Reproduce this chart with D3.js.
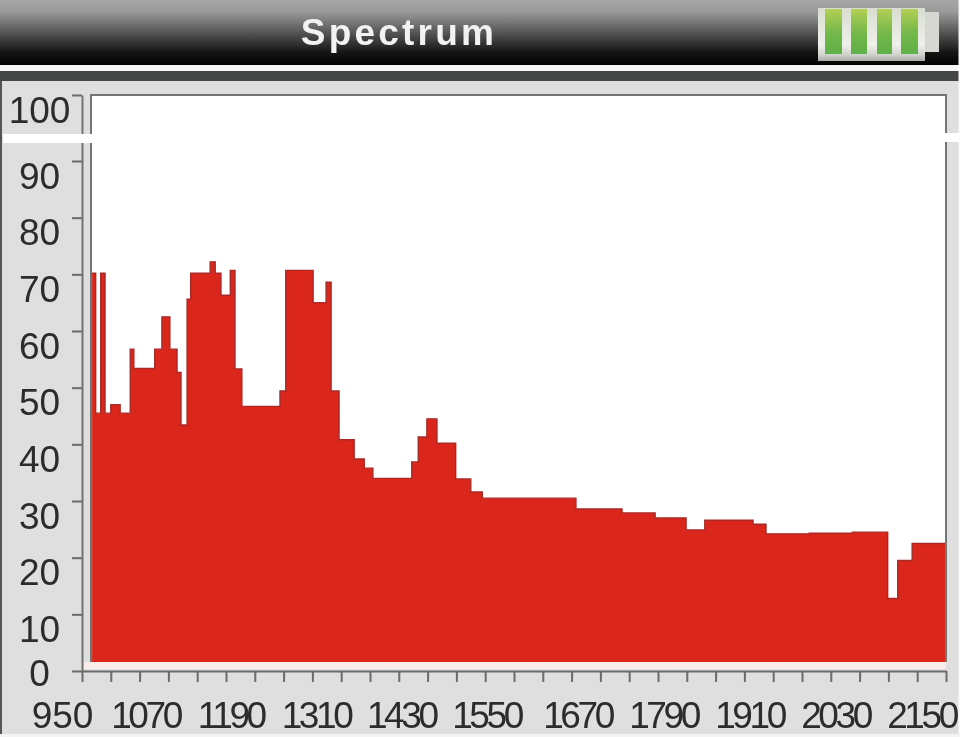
<!DOCTYPE html>
<html>
<head>
<meta charset="utf-8">
<script src="https://cdn.jsdelivr.net/npm/d3@7/dist/d3.min.js"></script>
<style>
html,body{margin:0;padding:0;background:#dedfde;overflow:hidden}
svg{display:block;filter:blur(0.7px)}
text{font-family:"Liberation Sans",Arial,sans-serif}
</style>
</head>
<body>
<script>
const titleText = "Spectrum";
const xTickValues = [950,990,1030,1070,1110,1150,1190,1230,1270,1310,1350,1390,1430,1470,1510,1550,1590,1630,1670,1710,1750,1790,1830,1870,1910,1950,1990,2030,2070,2110,2150];
const xLabelValues = [950,1070,1190,1310,1430,1550,1670,1790,1910,2030,2150];
const yTickValues = [0,10,20,30,40,50,60,70,80,90,100];
// Left edge of each step (MHz), closed by the last entry
const binEdges = [964,969,976,982,990,1003,1017,1022,1051,1061,1072,1082,1087.5,1096,1101,1128,1135,1143,1156,1162.5,1172,1225,1233,1271,1289,1296,1307,1328,1342,1354,1408,1417,1429,1443,1469,1490,1506,1636,1700,1746,1789,1815,1882,1900,1960,2020,2069,2083,2103,2150];
const binValues = [70.2,45.5,70.2,45.5,47,45.5,56.8,53.4,56.8,62.5,56.8,52.7,43.4,65.6,70.2,72.2,70.2,66.3,70.7,53.3,46.7,49.4,70.7,65,68.6,49.4,40.8,37.4,35.8,34,36.9,41.3,44.5,40.2,33.9,31.6,30.5,28.6,27.9,27,24.9,26.6,25.9,24.2,24.3,24.5,12.8,19.5,22.5];
const baseValue = 1.6;

const W = 960, H = 737;
const x = d3.scaleLinear().domain([950,2150]).range([82,946]);
// The source picture's labels sit left of their ticks, by an uneven amount
const labelX = d3.scaleLinear().domain([950,1070,1550,1670,2150]).range([62,145,486,577,921]);
// The source picture has a splice above 90: the top of the scale sits closer than the rest
const y = d3.scaleLinear().domain([0,90,100]).range([671,161,95]);

const svg = d3.select("body").append("svg").attr("width",W).attr("height",H).attr("viewBox",`0 0 ${W} ${H}`);
const defs = svg.append("defs");

const headGrad = defs.append("linearGradient").attr("id","head").attr("x1",0).attr("x2",0).attr("y1",0).attr("y2",1);
[[0,"#a6a6a6"],[0.18,"#9a9a9a"],[0.5,"#565656"],[0.8,"#161616"],[1,"#000"]].forEach(d=>headGrad.append("stop").attr("offset",d[0]).attr("stop-color",d[1]));
const shellGrad = defs.append("linearGradient").attr("id","shell").attr("x1",0).attr("x2",0).attr("y1",0).attr("y2",1);
[[0,"#d8ded0"],[0.7,"#eef0ea"],[0.88,"#d0d2cc"],[1,"#a9aaa6"]].forEach(d=>shellGrad.append("stop").attr("offset",d[0]).attr("stop-color",d[1]));
const cellGrad = defs.append("linearGradient").attr("id","cell").attr("x1",0).attr("x2",0).attr("y1",0).attr("y2",1);
[[0,"#b3d054"],[0.5,"#78b84a"],[1,"#5cb048"]].forEach(d=>cellGrad.append("stop").attr("offset",d[0]).attr("stop-color",d[1]));

// page
svg.append("rect").attr("width",W).attr("height",H).attr("fill","#dedfde");
svg.append("rect").attr("y",0).attr("width",W).attr("height",65).attr("fill","url(#head)");
svg.append("rect").attr("y",65).attr("width",W).attr("height",6).attr("fill","#f4f4f4");
svg.append("rect").attr("y",71).attr("width",W).attr("height",10).attr("fill","#444545");
svg.append("rect").attr("x",0).attr("y",81).attr("width",2).attr("height",H-81).attr("fill","#555");
svg.append("rect").attr("x",958.5).attr("y",0).attr("width",2).attr("height",H).attr("fill","#fafafa");
svg.append("rect").attr("y",734).attr("width",W).attr("height",3).attr("fill","#f4f4f4");

svg.append("text").attr("x",399).attr("y",45).attr("text-anchor","middle")
  .attr("font-size",37).attr("font-weight","bold").attr("letter-spacing",3.2).attr("fill","#f2f2f2").text(titleText);

// battery
svg.append("rect").attr("x",818).attr("y",8).attr("width",107).attr("height",53).attr("fill","url(#shell)");
svg.append("rect").attr("x",925).attr("y",12).attr("width",14).attr("height",40).attr("fill","#d6d7d2");
[[825,17],[851,16],[877,15],[901,17]].forEach(d=>{
  svg.append("rect").attr("x",d[0]).attr("y",9).attr("width",d[1]).attr("height",45).attr("fill","url(#cell)");
});

// plot panel
svg.append("rect").attr("x",91).attr("y",95).attr("width",855).attr("height",574).attr("fill","#fff");
svg.append("rect").attr("x",84).attr("y",662).attr("width",862).attr("height",7).attr("fill","#f9ecea");

// spectrum
const pts = binEdges.map((e,i)=>({x:e,v:binValues[Math.min(i,binValues.length-1)]}));
const area = d3.area().curve(d3.curveStepAfter).x(d=>x(d.x)).y0(y(baseValue)).y1(d=>y(d.v));
const line = d3.line().curve(d3.curveStepAfter).x(d=>x(d.x)).y(d=>y(d.v));
svg.append("path").datum(pts).attr("d",area).attr("fill","#da261b");
svg.append("path").datum(pts).attr("d",line).attr("fill","none").attr("stroke","#a82a28").attr("stroke-width",1.4);

// panel frame
const frame = d3.path();
frame.moveTo(91,662); frame.lineTo(91,95); frame.lineTo(946,95); frame.lineTo(946,662);
svg.append("path").attr("d",frame.toString()).attr("fill","none").attr("stroke","#737573").attr("stroke-width",2);

// axes
const yAxis = d3.axisLeft(y).tickValues(yTickValues).tickSizeInner(10).tickSizeOuter(0).tickPadding(0);
const gy = svg.append("g").attr("transform","translate(82,0)").call(yAxis);
gy.select(".domain").attr("stroke","#737573").attr("stroke-width",2);
gy.selectAll(".tick line").attr("stroke","#6a6c6a").attr("stroke-width",2);
gy.selectAll(".tick text")
  .attr("x",39.5-82).attr("dy",0).attr("y",d=>d===0?14:27)
  .attr("text-anchor","middle").attr("font-size",37).attr("font-family","Liberation Sans").attr("fill","#2c2c2c");

const xAxis = d3.axisBottom(x).tickValues(xTickValues).tickSizeInner(11).tickSizeOuter(0).tickFormat(d=>xLabelValues.includes(d)?d:"");
const gx = svg.append("g").attr("transform","translate(0,671)").call(xAxis);
gx.select(".domain").attr("stroke","#6a6c6a").attr("stroke-width",2);
gx.selectAll(".tick line").attr("stroke","#6a6c6a").attr("stroke-width",2);
gx.selectAll(".tick text")
  .attr("x",d=>labelX(d)-x(d)).attr("y",0).attr("dy",57)
  .attr("text-anchor","middle").attr("font-size",37).attr("font-family","Liberation Sans").attr("fill","#2c2c2c")
  .attr("letter-spacing",d=>d===950?0:-3.4);

// white splice band
svg.append("rect").attr("x",3).attr("y",134).attr("width",90).attr("height",9).attr("fill","#fff");
svg.append("rect").attr("x",945).attr("y",133).attr("width",15).attr("height",9).attr("fill","#fff");
</script>
</body>
</html>
